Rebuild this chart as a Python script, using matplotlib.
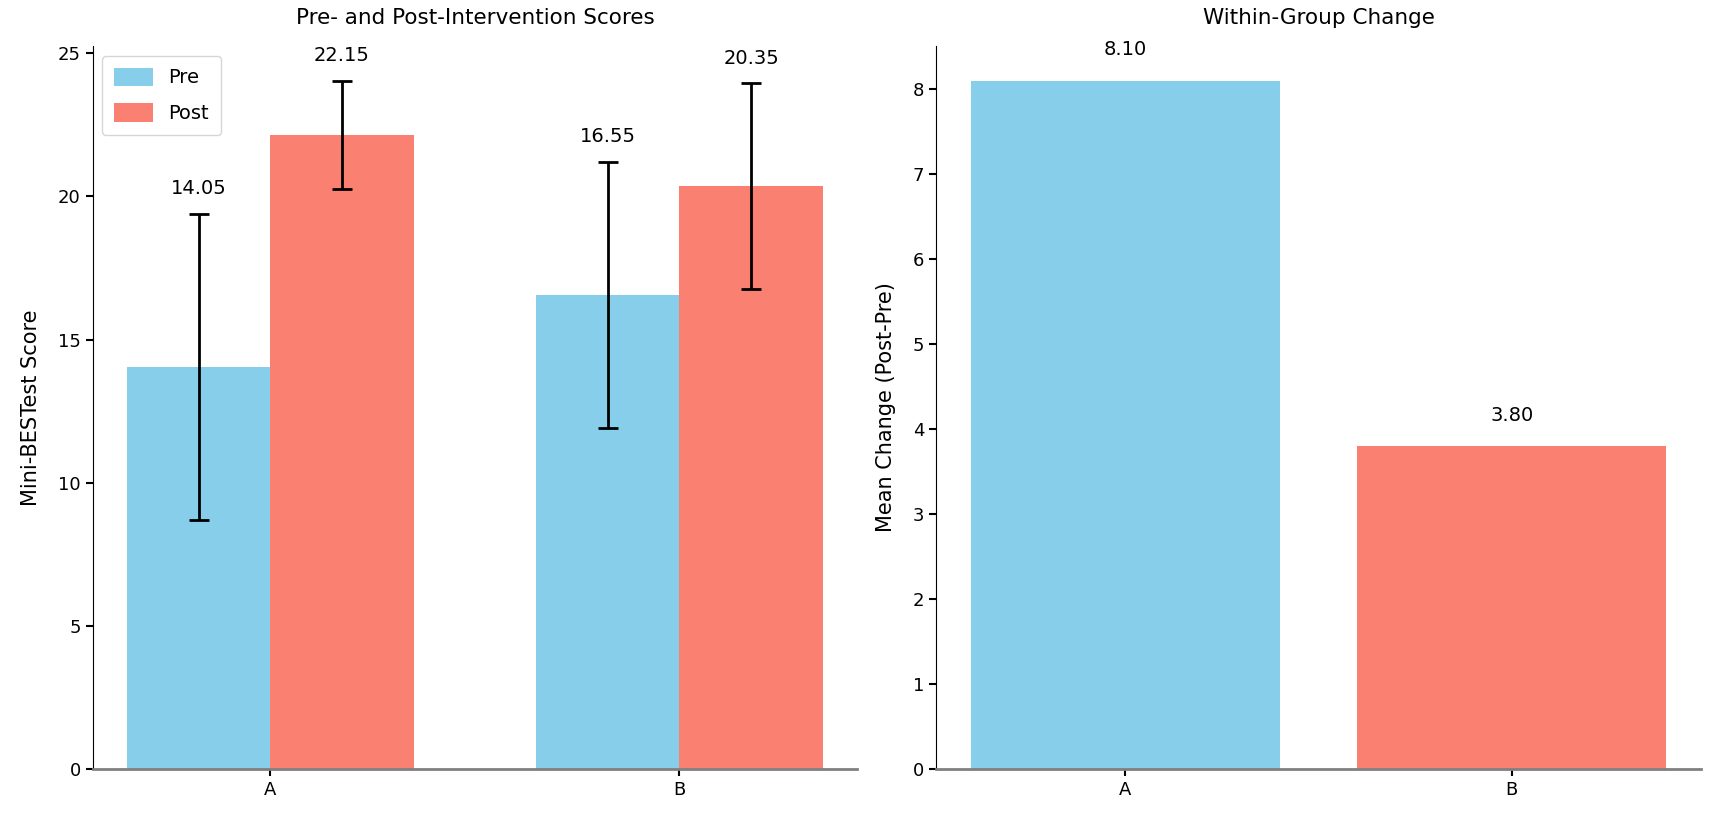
import numpy as np
import matplotlib
matplotlib.use("Agg")
import matplotlib.pyplot as plt

# data
groups = ["A", "B"]
pre_mean = [14.05, 16.55]
post_mean = [22.15, 20.35]
pre_sd = [5.35, 4.65]
post_sd = [1.9, 3.6]
change = [8.10, 3.80]

PRE_COLOR = "#87CEEB"
POST_COLOR = "#FA8072"

fig, (ax1, ax2) = plt.subplots(1, 2, figsize=(17.13, 8.24), dpi=100)
fig.subplots_adjust(left=0.054, right=0.993, bottom=0.067, top=0.944, wspace=0.103)

x = np.arange(len(groups))
w = 0.35

# 左图: 前后测
ax1.bar(x - w / 2, pre_mean, w, yerr=pre_sd, color=PRE_COLOR, label="Pre",
        capsize=7, error_kw=dict(elinewidth=2, capthick=2, ecolor="black"))
ax1.bar(x + w / 2, post_mean, w, yerr=post_sd, color=POST_COLOR, label="Post",
        capsize=7, error_kw=dict(elinewidth=2, capthick=2, ecolor="black"))

for xi, m, s in zip(x - w / 2, pre_mean, pre_sd):
    ax1.text(xi, m + s + 0.55, f"{m:.2f}", ha="center", va="bottom", fontsize=14)
for xi, m, s in zip(x + w / 2, post_mean, post_sd):
    ax1.text(xi, m + s + 0.55, f"{m:.2f}", ha="center", va="bottom", fontsize=14)

ax1.set_xticks(x)
ax1.set_xticklabels(groups)
ax1.set_ylabel("Mini-BESTest Score", fontsize=15, labelpad=12)
ax1.set_title("Pre- and Post-Intervention Scores", fontsize=15.5, pad=16)
ax1.legend(loc="upper left", fontsize=14, labelspacing=0.8, handleheight=1.1,
           borderpad=0.6)

# 右图: 组内变化
ax2.bar(x, change, color=[PRE_COLOR, POST_COLOR])
for xi, c in zip(x, change):
    ax2.text(xi, c + 0.25, f"{c:.2f}", ha="center", va="bottom", fontsize=14)
ax2.set_xticks(x)
ax2.set_xticklabels(groups)
ax2.set_ylabel("Mean Change (Post-Pre)", fontsize=15, labelpad=12)
ax2.set_title("Within-Group Change", fontsize=15.5, pad=16)

for ax in (ax1, ax2):
    ax.spines["top"].set_visible(False)
    ax.spines["right"].set_visible(False)
    ax.spines["bottom"].set_color("gray")
    ax.spines["bottom"].set_linewidth(2)
    ax.tick_params(labelsize=13, width=1.5, length=5)

plt.savefig("out.png", dpi=100)
